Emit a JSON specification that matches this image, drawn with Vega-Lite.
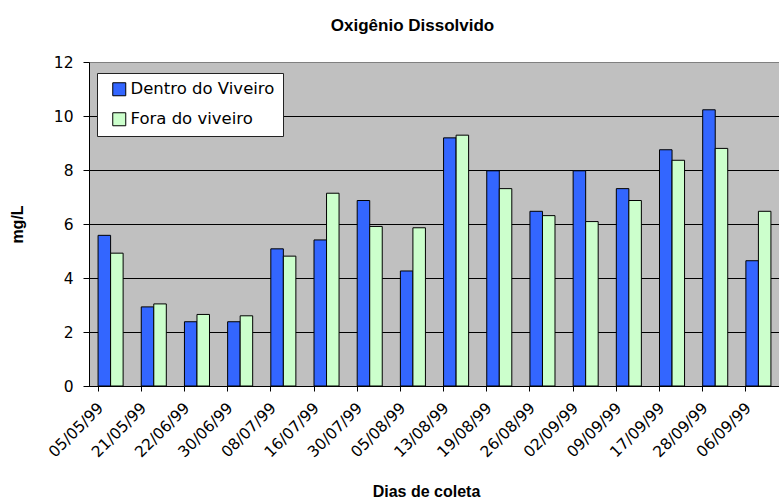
{
  "$schema": "https://vega.github.io/schema/vega-lite/v6.json",
  "autosize": "none",
  "padding": {"left": 89, "top": 62, "right": 0, "bottom": 114},
  "width": 691,
  "height": 324,
  "background": "white",
  "title": {
    "text": "Oxigênio Dissolvido",
    "font": "Liberation Sans",
    "fontSize": 17,
    "fontWeight": "bold",
    "color": "black",
    "anchor": "middle",
    "baseline": "alphabetic",
    "offset": 7,
    "dx": -22
  },
  "data": {
    "values": [
      {"data": "05/05/99", "serie": "Dentro do Viveiro", "valor": 5.58},
      {"data": "05/05/99", "serie": "Fora do viveiro", "valor": 4.92},
      {"data": "21/05/99", "serie": "Dentro do Viveiro", "valor": 2.93},
      {"data": "21/05/99", "serie": "Fora do viveiro", "valor": 3.04},
      {"data": "22/06/99", "serie": "Dentro do Viveiro", "valor": 2.38},
      {"data": "22/06/99", "serie": "Fora do viveiro", "valor": 2.65},
      {"data": "30/06/99", "serie": "Dentro do Viveiro", "valor": 2.38},
      {"data": "30/06/99", "serie": "Fora do viveiro", "valor": 2.6},
      {"data": "08/07/99", "serie": "Dentro do Viveiro", "valor": 5.08},
      {"data": "08/07/99", "serie": "Fora do viveiro", "valor": 4.81},
      {"data": "16/07/99", "serie": "Dentro do Viveiro", "valor": 5.41},
      {"data": "16/07/99", "serie": "Fora do viveiro", "valor": 7.14},
      {"data": "30/07/99", "serie": "Dentro do Viveiro", "valor": 6.87},
      {"data": "30/07/99", "serie": "Fora do viveiro", "valor": 5.91},
      {"data": "05/08/99", "serie": "Dentro do Viveiro", "valor": 4.26},
      {"data": "05/08/99", "serie": "Fora do viveiro", "valor": 5.86},
      {"data": "13/08/99", "serie": "Dentro do Viveiro", "valor": 9.19},
      {"data": "13/08/99", "serie": "Fora do viveiro", "valor": 9.29},
      {"data": "19/08/99", "serie": "Dentro do Viveiro", "valor": 7.97},
      {"data": "19/08/99", "serie": "Fora do viveiro", "valor": 7.31},
      {"data": "26/08/99", "serie": "Dentro do Viveiro", "valor": 6.47},
      {"data": "26/08/99", "serie": "Fora do viveiro", "valor": 6.31},
      {"data": "02/09/99", "serie": "Dentro do Viveiro", "valor": 7.97},
      {"data": "02/09/99", "serie": "Fora do viveiro", "valor": 6.09},
      {"data": "09/09/99", "serie": "Dentro do Viveiro", "valor": 7.31},
      {"data": "09/09/99", "serie": "Fora do viveiro", "valor": 6.87},
      {"data": "17/09/99", "serie": "Dentro do Viveiro", "valor": 8.75},
      {"data": "17/09/99", "serie": "Fora do viveiro", "valor": 8.36},
      {"data": "28/09/99", "serie": "Dentro do Viveiro", "valor": 10.23},
      {"data": "28/09/99", "serie": "Fora do viveiro", "valor": 8.8},
      {"data": "06/09/99", "serie": "Dentro do Viveiro", "valor": 4.64},
      {"data": "06/09/99", "serie": "Fora do viveiro", "valor": 6.47}
    ]
  },
  "mark": {"type": "bar", "stroke": "black", "strokeWidth": 1},
  "encoding": {
    "x": {
      "field": "data",
      "type": "nominal",
      "sort": null,
      "scale": {"paddingInner": 0.42, "paddingOuter": 0.21},
      "axis": {
        "title": "Dias de coleta",
        "titleFont": "Liberation Sans",
        "titleFontSize": 16,
        "titleFontWeight": "bold",
        "titleColor": "black",
        "titleX": 337,
        "titleY": 110,
        "titleAnchor": null,
        "titleAlign": "center",
        "titleBaseline": "alphabetic",
        "bandPosition": 0,
        "labelAngle": -45,
        "labelAlign": "right",
        "labelBaseline": "middle",
        "labelOffset": -10,
        "labelPadding": 14,
        "labelFont": "DejaVu Sans",
        "labelFontSize": 15.5,
        "labelColor": "black",
        "labelOverlap": false,
        "tickSize": 5,
        "tickColor": "black",
        "domainColor": "black",
        "grid": false
      }
    },
    "xOffset": {"field": "serie", "type": "nominal", "sort": null},
    "y": {
      "field": "valor",
      "type": "quantitative",
      "scale": {"domain": [0, 12], "nice": false},
      "axis": {
        "title": "mg/L",
        "titleFont": "Liberation Sans",
        "titleFontSize": 16,
        "titleFontWeight": "bold",
        "titleColor": "black",
        "titleAngle": -90,
        "titleX": -72,
        "titleY": 162,
        "titleAnchor": null,
        "titleAlign": "center",
        "titleBaseline": "middle",
        "values": [0, 2, 4, 6, 8, 10, 12],
        "labelFont": "DejaVu Sans",
        "labelFontSize": 15.5,
        "labelColor": "black",
        "labelPadding": 10,
        "tickSize": 6,
        "tickColor": "black",
        "domainColor": "black",
        "grid": true,
        "gridColor": {"condition": {"test": "datum.value === 12", "value": "#808080"}, "value": "black"},
        "gridOpacity": 1
      }
    },
    "color": {
      "field": "serie",
      "type": "nominal",
      "sort": null,
      "scale": {
        "domain": ["Dentro do Viveiro", "Fora do viveiro"],
        "range": ["#3366FF", "#CCFFCC"]
      },
      "legend": {
        "title": null,
        "orient": "none",
        "legendX": 8,
        "legendY": 11,
        "fillColor": "white",
        "strokeColor": "#222222",
        "padding": 8,
        "symbolType": "square",
        "symbolSize": 169,
        "symbolStrokeColor": "black",
        "symbolStrokeWidth": 1,
        "symbolOpacity": 1,
        "symbolOffset": 6,
        "labelFont": "DejaVu Sans",
        "labelFontSize": 16.5,
        "labelColor": "black",
        "labelOffset": 3,
        "labelLimit": 0,
        "rowPadding": 12
      }
    }
  },
  "config": {
    "view": {"fill": "#C0C0C0", "stroke": "#808080", "strokeWidth": 1}
  }
}
